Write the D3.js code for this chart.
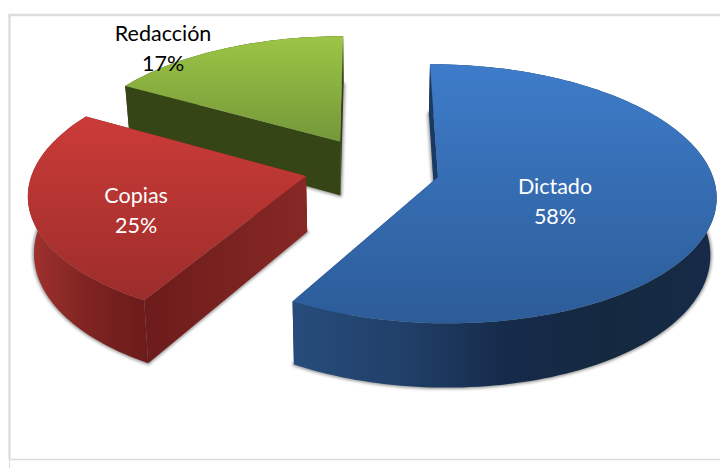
<!DOCTYPE html>
<html><head><meta charset="utf-8">
<script src="https://cdn.jsdelivr.net/npm/d3@7/dist/d3.min.js"></script>
<style>html,body{margin:0;padding:0;background:#fff}svg{display:block}text{font-family:Lato,"Open Sans",sans-serif}</style>
</head><body><svg id="c" width="720" height="468"></svg>
<script>
// ---- data ----
const categories = ["Dictado", "Copias", "Redacción"];
const shares = [58.3, 25, 16.7];
const shareLabels = ["58%", "25%", "17%"];

// ---- look & layout (not data) ----
const labelColors = ["#ffffff", "#ffffff", "#000000"];
const topColors = [["#3e7cca", "#2c5c98"], ["#cb3b38", "#9c2d2b"], ["#9cc545", "#75983a"]];
const arcWallColors = [["#274c7b", "#21406a", "#162b4b", "#14283f", "#172b49"], ["#a33230", "#8f2b28", "#7f2421", "#741f1d", "#6c1c1b"], ["#364516", "#364516", "#364516", "#364516", "#364516"]];
const startWallColors = [["#1a3a66", "#1a3a66"], ["#6c1c1b", "#872825"], ["#364516", "#364516"]];
const endWallColors = [["#1a3a66", "#1a3a66"], ["#6c1c1b", "#6c1c1b"], ["#374716", "#313e14"]];
const sliceCentreX = [70, -62, -29];
const sliceCentreY = [0, -2, -79.5];
const radius = 275;
const labelNudgeX = [-19.3, -34, -115.4];
const labelNudgeY = [15.3, 25, -37];

const W = 720, H = 468;
const vanishX = 368, horizonY = -810, planeK = 987, depth = 2130, thick = 56, converge = 0.018;

function project(X, Y, z) {
  const s = 1 / (1 - Y / depth);
  return [vanishX + X * s * (1 - z * converge), horizonY + planeK * s + z * thick * s];
}

const svg = d3.select("#c");
const defs = svg.append("defs");
function grad(id, colors, horizontal) {
  const g = defs.append("linearGradient").attr("id", id)
    .attr("x1", 0).attr("y1", 0).attr("x2", horizontal ? 1 : 0).attr("y2", horizontal ? 0 : 1);
  colors.forEach((c, i) => g.append("stop").attr("offset", i / (colors.length - 1)).attr("stop-color", c));
  return `url(#${id})`;
}
defs.append("filter").attr("id", "soft").attr("x", "-10%").attr("y", "-10%").attr("width", "120%").attr("height", "120%")
  .append("feGaussianBlur").attr("stdDeviation", 1.4);

// frame
const frame = svg.append("g").attr("fill", "none").attr("stroke", "#dddddd");
frame.append("path").attr("d", d3.line()([[9.5, 459], [9.5, 15], [W, 15]])).attr("stroke-width", 2.4);
frame.append("path").attr("d", d3.line()([[9.5, 459.5], [W, 459.5]])).attr("stroke-width", 1.4);
frame.append("path").attr("d", d3.line()([[9.5, 459], [9.5, H]])).attr("stroke-width", 1);

const pie = d3.pie().sort(null).value(d => d)(shares);
const line = d3.line();
const slices = pie.map((p, i) => ({ ...p, i }));
const drawOrder = [2, 1, 0];

function polar(i, a, r) {
  return [sliceCentreX[i] + r * Math.sin(a), sliceCentreY[i] - r * Math.cos(a)];
}
function arcPoints(i, a0, a1, z) {
  const n = Math.max(8, Math.ceil((a1 - a0) * 40));
  return d3.range(n + 1).map(k => {
    const [X, Y] = polar(i, a0 + (a1 - a0) * k / n, radius);
    return project(X, Y, z);
  });
}
function sectorPath(i, z) {
  const d = slices[i];
  return line([project(sliceCentreX[i], sliceCentreY[i], z), ...arcPoints(i, d.startAngle, d.endAngle, z)]) + "Z";
}
function radialWall(i, a) {
  const c0 = project(sliceCentreX[i], sliceCentreY[i], 0), c1 = project(sliceCentreX[i], sliceCentreY[i], 1);
  const [X, Y] = polar(i, a, radius);
  return line([c0, project(X, Y, 0), project(X, Y, 1), c1]) + "Z";
}

drawOrder.forEach(i => {
  const d = slices[i];
  const g = svg.append("g").attr("class", "slice");
  g.append("path").attr("d", sectorPath(i, 1)).attr("fill", "#777").attr("stroke", "#777").attr("stroke-width", 3)
    .attr("stroke-linejoin", "round").attr("filter", "url(#soft)").attr("opacity", 0.75);
  g.append("path").attr("d", radialWall(i, d.endAngle)).attr("fill", grad("we" + i, endWallColors[i], true));
  g.append("path").attr("d", radialWall(i, d.startAngle)).attr("fill", grad("ws" + i, startWallColors[i], true));
  const top = arcPoints(i, d.startAngle, d.endAngle, 0), bot = arcPoints(i, d.startAngle, d.endAngle, 1).reverse();
  g.append("path").attr("d", line([...top, ...bot]) + "Z").attr("fill", grad("wa" + i, arcWallColors[i], true));
  g.append("path").attr("d", sectorPath(i, 0)).attr("fill", grad("t" + i, topColors[i], false));
});

slices.forEach(d => {
  const i = d.i;
  const [X, Y] = polar(i, (d.startAngle + d.endAngle) / 2, radius / 2);
  const [x, y] = project(X, Y, 0);
  const t = svg.append("text").attr("text-anchor", "middle").attr("font-size", 21.5).attr("fill", labelColors[i])
    .attr("x", x + labelNudgeX[i]).attr("y", y + labelNudgeY[i]);
  t.append("tspan").attr("x", x + labelNudgeX[i]).attr("dy", -15).text(categories[i]);
  t.append("tspan").attr("x", x + labelNudgeX[i]).attr("dy", 30).text(shareLabels[i]);
});
</script></body></html>
